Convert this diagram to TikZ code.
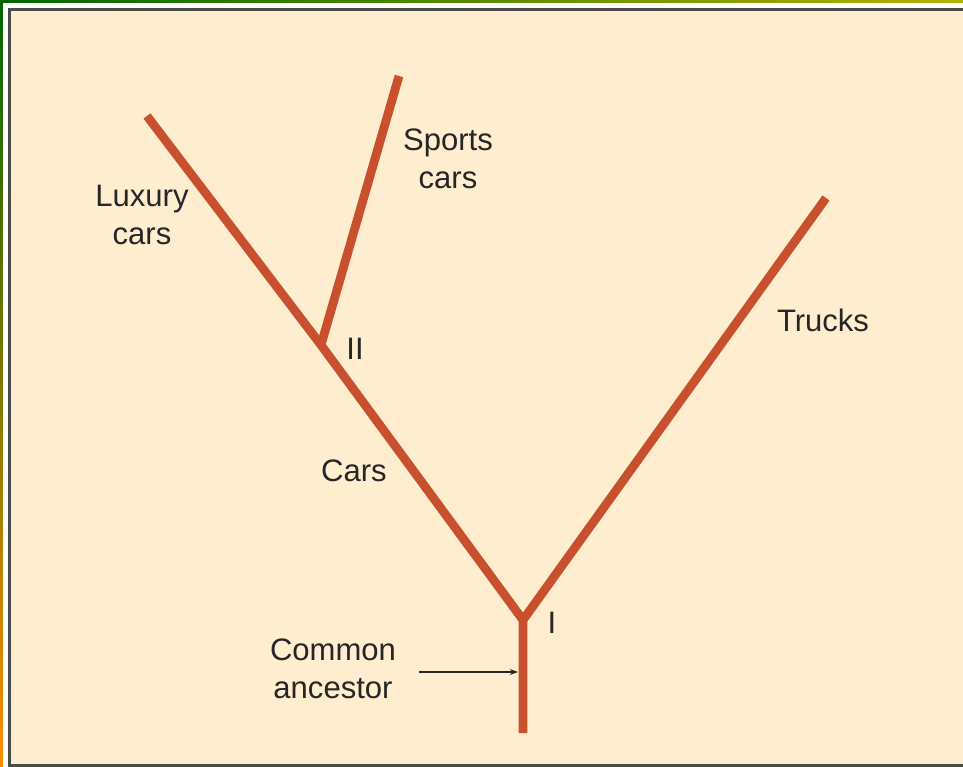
\documentclass[tikz,border=0pt]{standalone}
\usepackage{fontspec}
\setmainfont{Liberation Sans}
\usetikzlibrary{arrows.meta}
\definecolor{branchred}{HTML}{C9502C}
\definecolor{paper}{HTML}{FFEDD0}
\definecolor{framegray}{HTML}{4A4A46}

\begin{document}
\begin{tikzpicture}[x=0.03cm, y=-0.03cm, >=Stealth,
  branch/.style={line width=7.5pt, draw=branchred},
  lbl/.style={align=center, font=\fontsize{26.5}{32}\selectfont, text=black!85, inner sep=0pt}]
  \useasboundingbox (0,0) rectangle (963,767);
  %% Outer frame
  \shade[top color=green!40!black, bottom color=orange!90!yellow] (0,0) rectangle (3,767);
  \shade[left color=green!40!black, right color=yellow!70!black] (0,0) rectangle (963,3);
  \fill[white] (3,3) rectangle (963,767);
  \fill[paper] (8,8) rectangle (963,767);
  \draw[framegray, line width=2.5pt] (963,9.5) -- (9.5,9.5) -- (9.5,765.5) -- (963,765.5);
  %% Branch points and tips
  \coordinate (base) at (523,733);
  \coordinate (I) at (523,620);
  \coordinate (II) at (321,345);
  \coordinate (luxtip) at (147,116);
  \coordinate (sporttip) at (399,76);
  \coordinate (trucktip) at (826,198);
  %% Branches
  \draw[branch] (base) -- (I) -- (trucktip);
  \draw[branch, line join=round] (I) -- (II) -- (luxtip);
  \draw[branch] (II) -- (sporttip);
  %% Labels
  \node[lbl] (luxury) at (142,215) {Luxury\\cars};
  \node[lbl] (sports) at (448,159) {Sports\\cars};
  \node[lbl] (trucks) at (823,320) {Trucks};
  \node[lbl] (cars) at (354,471) {Cars};
  \node[lbl] (labII) at (355,349) {II};
  \node[lbl] (labI) at (552,623) {I};
  \node[lbl] (ancestor) at (333,669) {Common\\ancestor};
  %% Arrow to the trunk
  \coordinate (arrowstart) at (419,672);
  \coordinate (arrowend) at (518,672);
  \draw[-{Stealth[length=7pt,width=5pt]}, line width=1pt, black!85] (arrowstart) -- (arrowend);
\end{tikzpicture}
\end{document}
